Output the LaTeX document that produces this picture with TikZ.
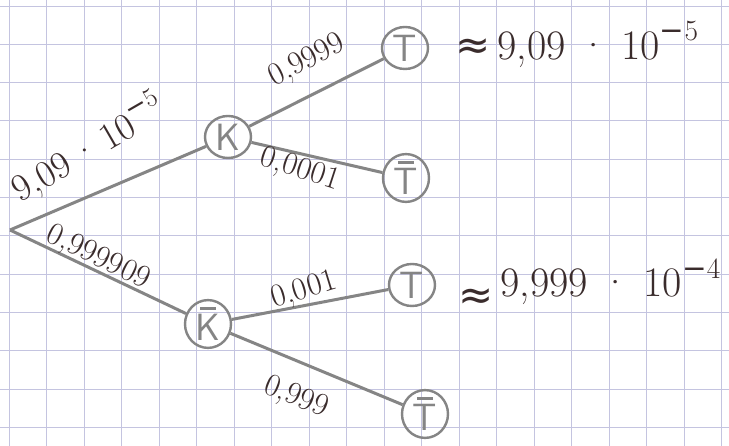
\documentclass[tikz,border=0pt]{standalone}
\usepackage{fontspec}
\newfontfamily\symf{DejaVu Sans}
\definecolor{gridc}{HTML}{C4C4E0}
\definecolor{pen}{HTML}{858585}
\definecolor{ink}{HTML}{3A2C2C}
\usetikzlibrary{shapes.geometric}
\newcommand{\barred}[1]{\ooalign{\hfil\raisebox{0.82em}{\rule{0.4em}{0.07em}}\hfil\cr #1\cr}}
\newcommand{\myexp}[1]{\raisebox{0.45em}{\scalebox{0.7}{{\symf −}#1}}}
\tikzset{
  ev/.style={draw=pen, line width=2.4pt, ellipse, minimum width=46pt, minimum height=42pt, inner sep=0pt, text=pen, font=\fontsize{38}{38}\selectfont\sffamily},
  br/.style={draw=pen, line width=3pt},
  lbl/.style={text=ink, font=\fontsize{32}{32}\selectfont\addfontfeatures{LetterSpace=10}, inner sep=1pt},
  res/.style={text=ink, font=\fontsize{42}{42}\selectfont\addfontfeatures{LetterSpace=14}, anchor=west, inner sep=0pt}
}
\begin{document}
\begin{tikzpicture}[x=1pt,y=-1pt]
\useasboundingbox (0,0) rectangle (729,446);
\fill[white] (0,0) rectangle (729,446);
% grid
\foreach \i in {0,...,19} { \draw[gridc, line width=0.8pt] ({9.3+37.5*\i},0) -- ({9.3+37.5*\i},446); }
\foreach \j in {0,...,11} { \draw[gridc, line width=0.8pt] (0,{6+38.3*\j}) -- (729,{6+38.3*\j}); }
% nodes
\coordinate (r) at (10,230);
\node[ev] (k) at (228,137) {K};
\node[ev] (kb) at (208,324) {\barred{K}};
\node[ev] (t1) at (405,48) {T};
\node[ev] (tb1) at (406,178) {\barred{T}};
\node[ev] (t2) at (412,285) {T};
\node[ev] (tb2) at (425,414) {\barred{T}};
% branches
\draw[br] (r) -- (k);
\draw[br] (r) -- (kb);
\draw[br] (k) -- (t1);
\draw[br] (k) -- (tb1);
\draw[br] (kb) -- (t2);
\draw[br] (kb) -- (tb2);
% labels
\node[lbl, rotate=30, font=\fontsize{38}{38}\selectfont] (l1) at (88,148) {9,09\,·\,10\myexp{5}};
\node[lbl, rotate=-26] (l2) at (98,258) {0,999909};
\node[lbl, rotate=27] (l3) at (307,61) {0,9999};
\node[lbl, rotate=-18] (l4) at (300,170) {0,0001};
\node[lbl, rotate=17] (l5) at (304,291) {0,001};
\node[lbl, rotate=-22] (l6) at (296,398) {0,999};
% results
\node[res] (p1) at (455,44) {{\symf ≈}\,9,09 · 10\myexp{5}};
\node[res] (p2) at (458,284) {{\symf ≈}\,\raisebox{0.3em}{9,999 · 10\myexp{4}}};
\end{tikzpicture}
\end{document}
